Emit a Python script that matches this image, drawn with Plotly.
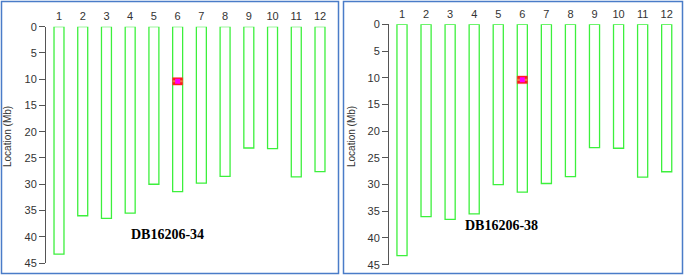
import plotly.graph_objects as go

chromosomes = [1, 2, 3, 4, 5, 6, 7, 8, 9, 10, 11, 12]
chrom_lengths = [43.3, 36.0, 36.5, 35.5, 30.0, 31.4, 29.8, 28.5, 23.1, 23.2, 28.6, 27.6]
y_ticks = [0, 5, 10, 15, 20, 25, 30, 35, 40, 45]
panel_names = ["DB16206-34", "DB16206-38"]
qtl_chrom = [6]
qtl_start = [9.7]
qtl_end = [11.1]
qtl_peak = [10.4]

W, H = 685, 277
def fx(px):
    return px / W
def fy(py):
    return 1 - py / H

GREEN = "#3cf03c"
fig = go.Figure()

panels = [
    dict(ax=46, right=336, y0=26.7, y45=263, c1=59, c12=320, lab=(167.5, 234), title_x=8),
    dict(ax=389, right=681, y0=24.3, y45=264.7, c1=402, c12=666.7, lab=(501, 225), title_x=352),
]

for i, p in enumerate(panels):
    n = "" if i == 0 else str(i + 1)
    xa, ya = "x" + n, "y" + n
    ppu = (p["c12"] - p["c1"]) / 11
    xmin = 1 - (p["c1"] - p["ax"]) / ppu
    xmax = 12 + (p["right"] - p["c12"]) / ppu
    fig.add_trace(go.Bar(
        x=chromosomes, y=chrom_lengths, base=0, width=0.42,
        marker=dict(color="white", line=dict(color=GREEN, width=1.3)),
        xaxis=xa, yaxis=ya, showlegend=False, hoverinfo="skip"))
    fig.add_trace(go.Bar(
        x=qtl_chrom, y=[e - s for s, e in zip(qtl_start, qtl_end)], base=qtl_start, width=0.42,
        marker=dict(color="#ff1a1a", line=dict(color="#ff3030", width=0.5)),
        xaxis=xa, yaxis=ya, showlegend=False, hoverinfo="skip"))
    fig.add_trace(go.Bar(
        x=qtl_chrom, y=[0.4], base=[q - 0.2 for q in qtl_peak], width=0.42,
        marker=dict(color="#f07a40", line=dict(width=0)),
        xaxis=xa, yaxis=ya, showlegend=False, hoverinfo="skip"))
    fig.add_trace(go.Scatter(
        x=qtl_chrom, y=qtl_peak, mode="markers",
        marker=dict(color="#ff00ff", size=5, symbol="square"),
        xaxis=xa, yaxis=ya, showlegend=False, hoverinfo="skip"))

    xdom = [fx(p["ax"]), fx(p["right"])]
    ydom = [fy(p["y45"]), fy(p["y0"])]
    fig.layout["xaxis" + n] = dict(
        domain=xdom, range=[xmin, xmax], side="top", anchor=ya, automargin=False,
        tickvals=chromosomes, ticktext=[str(c) for c in chromosomes],
        ticks="outside", ticklen=1, tickcolor="rgba(0,0,0,0)",
        showline=False, showgrid=False, zeroline=False,
        tickfont=dict(family="Liberation Sans, Arial", size=11, color="#333333"))
    fig.layout["yaxis" + n] = dict(
        domain=ydom, range=[45, 0], anchor=xa, automargin=False,
        tickvals=y_ticks, ticks="outside", ticklen=6, tickcolor="#555555", tickwidth=1,
        showline=True, linecolor="#555555", linewidth=1,
        showgrid=False, zeroline=False,
        tickfont=dict(family="Liberation Sans, Arial", size=11, color="#333333"))

    fig.add_annotation(x=fx(p["title_x"]), y=fy(137), xref="paper", yref="paper",
                       xanchor="center", yanchor="middle",
                       text="Location (Mb)", textangle=-90, showarrow=False,
                       font=dict(family="Liberation Sans, Arial", size=10, color="#333333"))
    fig.add_annotation(x=fx(p["lab"][0]), y=fy(p["lab"][1]), xref="paper", yref="paper",
                       xanchor="center", yanchor="middle",
                       text="<b>" + panel_names[i] + "</b>", showarrow=False,
                       font=dict(family="Liberation Serif, Times New Roman", size=14, color="black"))

for x0, x1 in [(1.5, 338.5), (343.5, 682.5)]:
    fig.add_shape(type="rect", xref="paper", yref="paper",
                  x0=fx(x0), x1=fx(x1), y0=fy(273.5), y1=fy(1.5),
                  line=dict(color="#4a7cc8", width=1.5))

fig.update_layout(width=W, height=H, margin=dict(l=0, r=0, t=0, b=0),
                  paper_bgcolor="white", plot_bgcolor="white", barmode="overlay")
fig.write_html("out.html", config={"displayModeBar": False},
               post_script="document.body.style.margin='0';document.body.style.overflow='hidden';")
